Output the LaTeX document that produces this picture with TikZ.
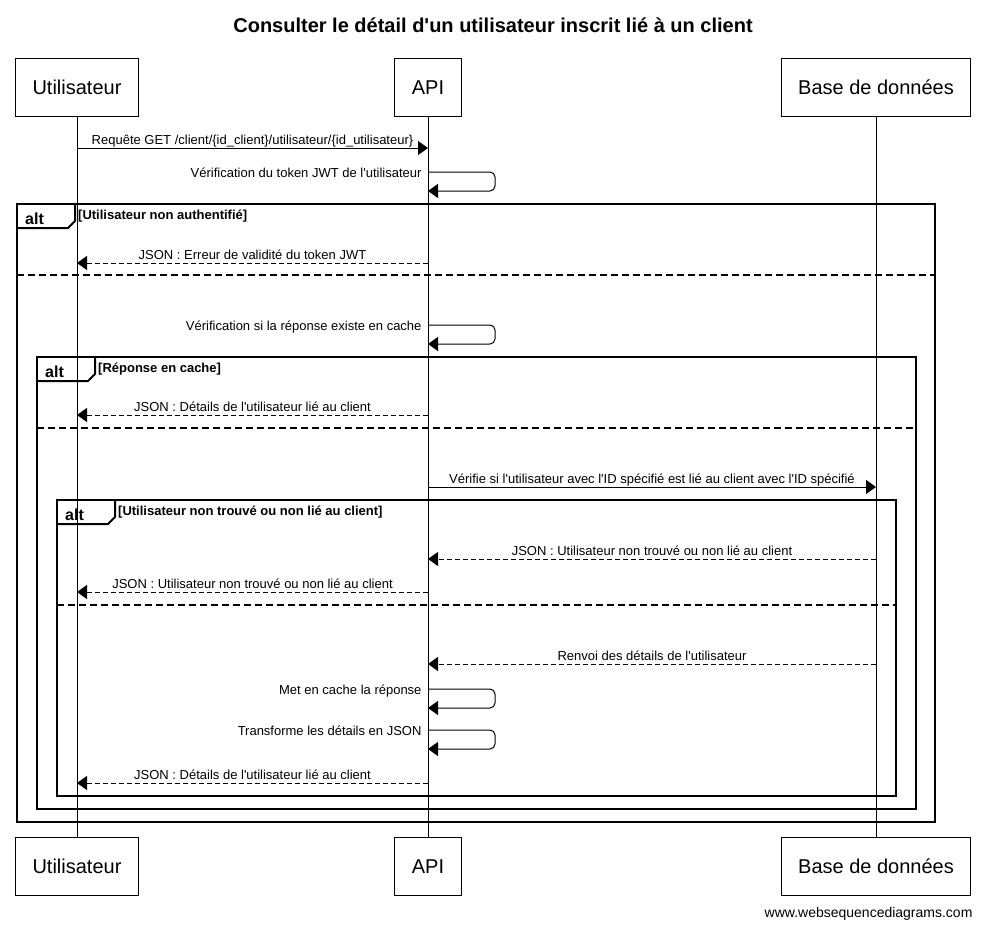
\documentclass[tikz,border=0pt]{standalone}
\usepackage{fontspec}
\setmainfont{Liberation Sans}
\usetikzlibrary{arrows.meta, positioning}
\newcommand{\apo}{\textquotesingle}
\tikzset{
    actor/.style={rectangle, draw, line width=1pt, inner xsep=17pt, inner ysep=0pt, text height=15pt, text depth=0pt, minimum height=58pt, font=\fontsize{20}{24}\selectfont},
    msg/.style={-{Triangle[length=10pt, width=14pt]}, line width=1pt},
    reply/.style={msg, dash pattern=on 5pt off 3pt},
    msglabel/.style={anchor=base, inner sep=0pt, yshift=4pt, font=\fontsize{13}{15}\selectfont},
    selflabel/.style={anchor=base east, inner sep=0pt, xshift=-6pt, yshift=-5pt, font=\fontsize{13}{15}\selectfont},
    frameline/.style={line width=2pt},
    sepline/.style={line width=2pt, dash pattern=on 7pt off 4pt},
    altlabel/.style={anchor=base west, inner sep=0pt, font=\bfseries\fontsize{16}{18}\selectfont},
    cond/.style={anchor=base west, inner sep=0pt, font=\bfseries\fontsize{13}{15}\selectfont}
}
\begin{document}
\begin{tikzpicture}[x=1pt, y=-1pt]
    \fill[white] (0,0) rectangle (985,927);
    \useasboundingbox (0,0) rectangle (985,927);
    \node (title) [anchor=base, font=\bfseries\fontsize{20}{24}\selectfont] at (493,32) {Consulter le détail d\apo un utilisateur inscrit lié à un client};

    % participants
    \node (utop) [actor] at (77,87) {Utilisateur};
    \node (atop) [actor] at (428,87) {API};
    \node (dtop) [actor] at (876,87) {Base de données};
    \node (ubot) [actor, below=720pt of utop] {Utilisateur};
    \node (abot) [actor, below=720pt of atop] {API};
    \node (dbot) [actor, below=720pt of dtop] {Base de données};

    % alt frames
    \draw[frameline] (17,204) rectangle (935,822);
    \draw[frameline] (17,228) -- (68,228) -- (75,221) -- (75,204);
    \node (alt1) [altlabel] at (25,224) {alt};
    \node (cond1) [cond] at (78,219) {[Utilisateur non authentifié]};
    \draw[sepline] (17,275) -- (935,275);

    \draw[frameline] (37,357) rectangle (916,809);
    \draw[frameline] (37,381) -- (88,381) -- (95,374) -- (95,357);
    \node (alt2) [altlabel] at (45,377) {alt};
    \node (cond2) [cond] at (98,372) {[Réponse en cache]};
    \draw[sepline] (37,428) -- (916,428);

    \draw[frameline] (57,500) rectangle (896,796);
    \draw[frameline] (57,524) -- (108,524) -- (115,517) -- (115,500);
    \node (alt3) [altlabel] at (65,520) {alt};
    \node (cond3) [cond] at (118,515) {[Utilisateur non trouvé ou non lié au client]};
    \draw[sepline] (57,605) -- (896,605);

    % lifelines
    \draw[line width=1pt] (utop) -- (ubot);
    \draw[line width=1pt] (atop) -- (abot);
    \draw[line width=1pt] (dtop) -- (dbot);

    % messages
    \coordinate (u1) at (77,148);
    \coordinate (a1) at (428,148);
    \draw[msg] (u1) -- node[msglabel] {Requête GET /client/\{id\_client\}/utilisateur/\{id\_utilisateur\}} (a1);

    \coordinate (a2) at (428,172);
    \coordinate (a2r) at (428,191);
    \draw[msg, rounded corners=5pt] (a2) node[selflabel] {Vérification du token JWT de l\apo utilisateur} -- ++(67,0) -- ++(0,19) -- (a2r);

    \coordinate (a3) at (428,263);
    \coordinate (u3) at (77,263);
    \draw[reply] (a3) -- node[msglabel] {JSON : Erreur de validité du token JWT} (u3);

    \coordinate (a4) at (428,325);
    \coordinate (a4r) at (428,344);
    \draw[msg, rounded corners=5pt] (a4) node[selflabel] {Vérification si la réponse existe en cache} -- ++(67,0) -- ++(0,19) -- (a4r);

    \coordinate (a5) at (428,415);
    \coordinate (u5) at (77,415);
    \draw[reply] (a5) -- node[msglabel] {JSON : Détails de l\apo utilisateur lié au client} (u5);

    \coordinate (a6) at (428,487);
    \coordinate (d6) at (876,487);
    \draw[msg] (a6) -- node[msglabel] {Vérifie si l\apo utilisateur avec l\apo ID spécifié est lié au client avec l\apo ID spécifié} (d6);

    \coordinate (d7) at (876,559);
    \coordinate (a7) at (428,559);
    \draw[reply] (d7) -- node[msglabel] {JSON : Utilisateur non trouvé ou non lié au client} (a7);

    \coordinate (a8) at (428,592);
    \coordinate (u8) at (77,592);
    \draw[reply] (a8) -- node[msglabel] {JSON : Utilisateur non trouvé ou non lié au client} (u8);

    \coordinate (d9) at (876,664);
    \coordinate (a9) at (428,664);
    \draw[reply] (d9) -- node[msglabel] {Renvoi des détails de l\apo utilisateur} (a9);

    \coordinate (a10) at (428,689);
    \coordinate (a10r) at (428,708);
    \draw[msg, rounded corners=5pt] (a10) node[selflabel] {Met en cache la réponse} -- ++(67,0) -- ++(0,19) -- (a10r);

    \coordinate (a11) at (428,730);
    \coordinate (a11r) at (428,749);
    \draw[msg, rounded corners=5pt] (a11) node[selflabel] {Transforme les détails en JSON} -- ++(67,0) -- ++(0,19) -- (a11r);

    \coordinate (a12) at (428,783);
    \coordinate (u12) at (77,783);
    \draw[reply] (a12) -- node[msglabel] {JSON : Détails de l\apo utilisateur lié au client} (u12);

    \node (footer) [anchor=base east, font=\fontsize{14}{16}\selectfont] at (976,917) {www.websequencediagrams.com};
\end{tikzpicture}
\end{document}
